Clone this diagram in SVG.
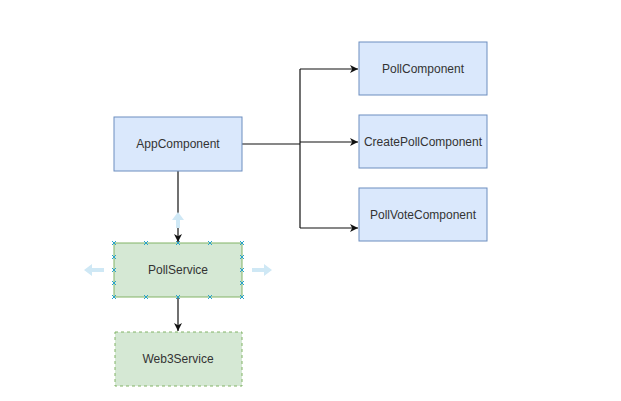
<svg xmlns="http://www.w3.org/2000/svg" width="621" height="401" viewBox="0 0 621 401">
<style>
.blue{fill:#dae8fc;stroke:#6c8ebf;stroke-width:1}
.green{fill:#d5e8d4;stroke:#82b366;stroke-width:1}
.dash{stroke-dasharray:3,3}
.lbl{font-family:"Liberation Sans",Arial,sans-serif;font-size:12px;fill:#333;text-anchor:middle;dominant-baseline:central}
.edge{fill:none;stroke:#111;stroke-width:1.2}
.h{stroke:#29a3c9;stroke-width:1}
.hint{fill:#cfe8f5}
</style>
<defs>
<marker id="arr" markerWidth="10" markerHeight="10" refX="8" refY="4.5" orient="auto" markerUnits="userSpaceOnUse">
<path d="M0,0.5 L8,4.5 L0,8.5 L2.2,4.5 Z" fill="#111"/>
</marker>
</defs>
<rect width="621" height="401" fill="#fff"/>
<g id="connectors">
<path class="edge" d="M242,144 H300"/>
<path class="edge" d="M300,69 V228"/>
<path class="edge" d="M300,69 H358" marker-end="url(#arr)"/>
<path class="edge" d="M300,142 H358" marker-end="url(#arr)"/>
<path class="edge" d="M300,228 H358" marker-end="url(#arr)"/>
<path class="edge" d="M178,171 V242" marker-end="url(#arr)"/>
<path class="edge" d="M178,297 V331" marker-end="url(#arr)"/>
</g>
<g id="hints">
<path class="hint" d="M178,212 L172,220 H176 V228 H180 V220 H184 Z"/>
<path class="hint" d="M84,270 L92,264 V268 H104 V272 H92 V276 Z"/>
<path class="hint" d="M272,270 L264,264 V268 H252 V272 H264 V276 Z"/>
</g>
<g id="AppComponent"><rect class="blue" x="114" y="117" width="128" height="54"/><text class="lbl" x="178" y="144">AppComponent</text></g>
<g id="PollComponent"><rect class="blue" x="359" y="42" width="128" height="53"/><text class="lbl" x="423" y="69">PollComponent</text></g>
<g id="CreatePollComponent"><rect class="blue" x="359" y="115" width="128" height="53"/><text class="lbl" x="423" y="142">CreatePollComponent</text></g>
<g id="PollVoteComponent"><rect class="blue" x="359" y="188" width="128" height="53"/><text class="lbl" x="423" y="215">PollVoteComponent</text></g>
<g id="PollService"><rect class="green" x="114" y="243" width="128" height="54"/><text class="lbl" x="178" y="270">PollService</text>
<g class="h">
<path d="M112,241 l4,4 M116,241 l-4,4 M144,241 l4,4 M148,241 l-4,4 M176,241 l4,4 M180,241 l-4,4 M208,241 l4,4 M212,241 l-4,4 M240,241 l4,4 M244,241 l-4,4"/>
<path d="M112,295 l4,4 M116,295 l-4,4 M144,295 l4,4 M148,295 l-4,4 M176,295 l4,4 M180,295 l-4,4 M208,295 l4,4 M212,295 l-4,4 M240,295 l4,4 M244,295 l-4,4"/>
<path d="M112,255 l4,4 M116,255 l-4,4 M112,268 l4,4 M116,268 l-4,4 M112,281 l4,4 M116,281 l-4,4"/>
<path d="M240,255 l4,4 M244,255 l-4,4 M240,268 l4,4 M244,268 l-4,4 M240,281 l4,4 M244,281 l-4,4"/>
</g>
</g>
<g id="Web3Service"><rect class="green dash" x="115" y="332" width="127" height="54"/><text class="lbl" x="178" y="359">Web3Service</text></g>
</svg>
